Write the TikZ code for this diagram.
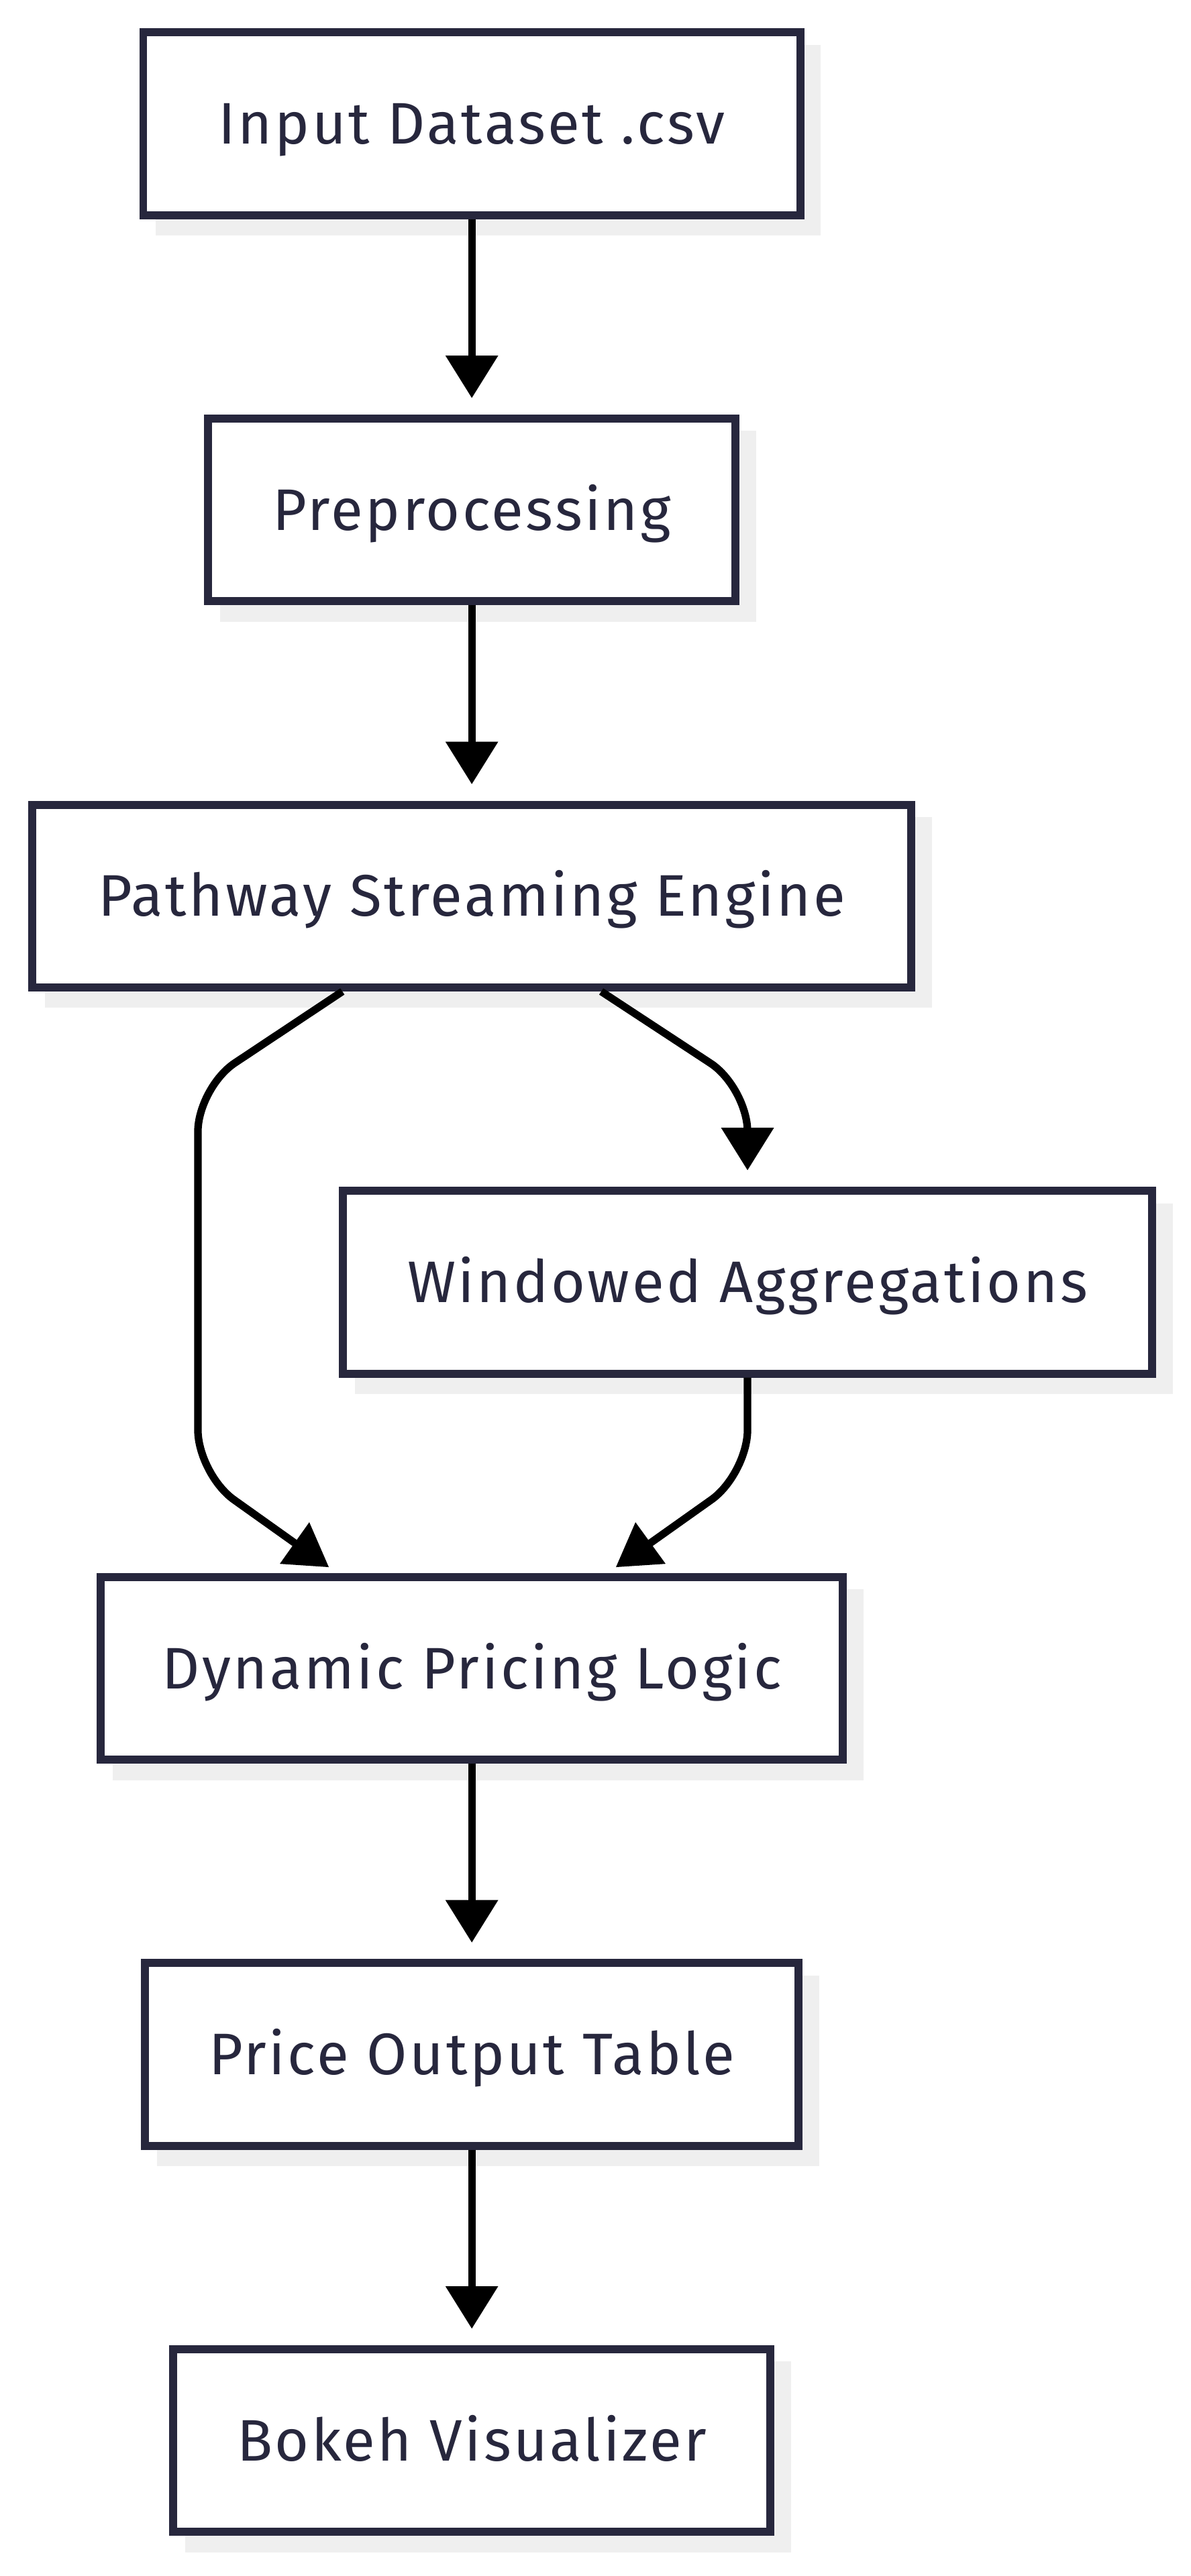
\documentclass[tikz,border=0pt]{standalone}
\usepackage{fontspec}
\setmainfont{Fira Sans}[LetterSpace=4]
\usetikzlibrary{arrows.meta,calc,shadows}
\definecolor{navy}{HTML}{27273D}
\definecolor{shade}{HTML}{EFEFEF}

\begin{document}
\begin{tikzpicture}[x=0.5pt,y=-0.5pt,
    stage/.style={draw=navy,line width=2.45pt,fill=white,text=navy,
      font=\fontsize{17.9pt}{21pt}\selectfont,text height=12.35pt,text depth=0pt,
      inner sep=0pt,minimum height=55.8pt,
      drop shadow={shadow xshift=5pt,shadow yshift=-5pt,fill=shade,draw=shade,line width=2.45pt,opacity=1}},
    flow/.style={line width=2.3pt,-{Triangle[length=13pt,width=15.5pt]},shorten >=5pt},
    link/.style={line width=2.3pt,rounded corners=13.5pt}]
    \useasboundingbox (0,0) rectangle (727,1572.8);
    \node[stage,minimum width=200.55pt] (ids) at (288,75.6) {Input Dataset .csv};
    \node[stage,minimum width=161.05pt] (pre) at (288,311.35) {Preprocessing};
    \node[stage,minimum width=268.25pt] (pse) at (288,547.1) {Pathway Streaming Engine};
    \node[stage,minimum width=247.05pt] (win) at (456.3,782.85) {Windowed Aggregations};
    \node[stage,minimum width=226.55pt] (dpl) at (288,1018.6) {Dynamic Pricing Logic};
    \node[stage,minimum width=199.55pt] (pot) at (288,1254.35) {Price Output Table};
    \node[stage,minimum width=182.35pt] (bkv) at (288,1490.1) {Bokeh Visualizer};
    \coordinate (tipL) at (186.8,947);
    \coordinate (tipR) at (390.1,947);
    \draw[flow] (ids) -- (pre);
    \draw[flow] (pre) -- (pse);
    \draw[link] ($(pse.south)+(-79,0)$) -- (120.8,664) -- (120.8,900) -- (tipL);
    \draw[link,flow] ($(pse.south)+(79,0)$) -- (456.3,664) -- (win.north);
    \draw[link] (win.south) -- (456.3,900) -- (tipR);
    \fill[shift={(tipL)}] (2,-17.6) -- (-16,7.8) -- (13.9,9.8) -- cycle;
    \fill[shift={(tipR)}] (-2.2,-17.6) -- (-14.1,9.8) -- (16.2,7.8) -- cycle;
    \draw[flow] (dpl) -- (pot);
    \draw[flow] (pot) -- (bkv);
\end{tikzpicture}
\end{document}
